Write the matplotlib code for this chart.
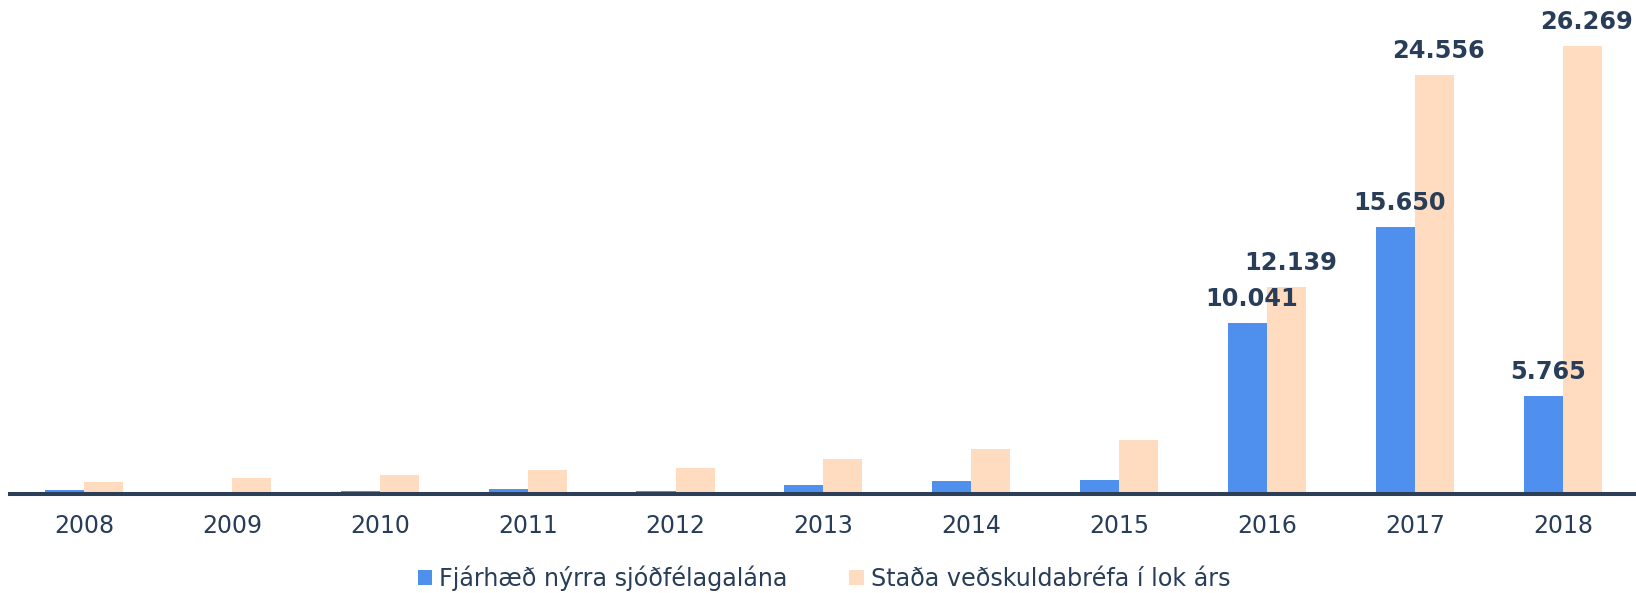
import matplotlib
matplotlib.use("Agg")
import matplotlib.pyplot as plt
import numpy as np

years = ["2008", "2009", "2010", "2011", "2012", "2013", "2014", "2015", "2016", "2017", "2018"]
new_loans = [240, 70, 176, 274, 157, 509, 744, 803, 10041, 15650, 5765]
bonds_outstanding = [725, 920, 1116, 1409, 1527, 2075, 2642, 3151, 12139, 24556, 26269]
labelled_years = ["2016", "2017", "2018"]
series_names = ["Fjárhæð nýrra sjóðfélagalána", "Staða veðskuldabréfa í lok árs"]

BLUE = "#4f8fee"
PEACH = "#ffdcc0"
TEXT = "#283d58"
AXIS = "#2c3f56"

plt.rcParams['font.family'] = ['DejaVu Sans']

fig = plt.figure(figsize=(16.36, 5.93), dpi=100)
ax = fig.add_axes([10/1636, 99/593, 1626/1636, 494/593])

x = np.arange(len(years))
w = 0.264
b1 = ax.bar(x - w/2, new_loans, width=w, color=BLUE, label=series_names[0], zorder=2)
b2 = ax.bar(x + w/2, bonds_outstanding, width=w, color=PEACH, label=series_names[1], zorder=2)

def fmt(v):
    return f"{v:,}".replace(",", ".")

for i, yr in enumerate(years):
    if yr in labelled_years:
        for xs, vals in ((x[i] - w/2, new_loans), (x[i] + w/2, bonds_outstanding)):
            ax.annotate(fmt(vals[i]), xy=(xs, vals[i]), xytext=(3, 12.2),
                        textcoords="offset points", ha="center", va="baseline",
                        fontsize=17.3, fontweight="bold", color=TEXT, zorder=5,
                        annotation_clip=False)

ax.set_xlim(-0.5, 10.494)
ax.set_ylim(0, 28946)
ax.set_xticks(x)
ax.set_xticklabels(years, fontsize=17, color=TEXT)
ax.tick_params(axis="x", length=0, pad=14.5)
ax.set_yticks([])
for s in ["top", "left", "right"]:
    ax.spines[s].set_visible(False)
ax.spines["bottom"].set_color(AXIS)
ax.spines["bottom"].set_linewidth(2.9)
ax.spines["bottom"].set_zorder(3)

leg = fig.legend(handles=[b1, b2], labels=series_names, loc="center",
                 bbox_to_anchor=(824/1636, 1 - 578/593), ncol=2, frameon=False,
                 fontsize=17.2, handlelength=0.6, handleheight=0.6,
                 handletextpad=0.28, columnspacing=2.6, borderaxespad=0, borderpad=0)
for t in leg.get_texts():
    t.set_color(TEXT)

fig.savefig("out.png", dpi=100)
